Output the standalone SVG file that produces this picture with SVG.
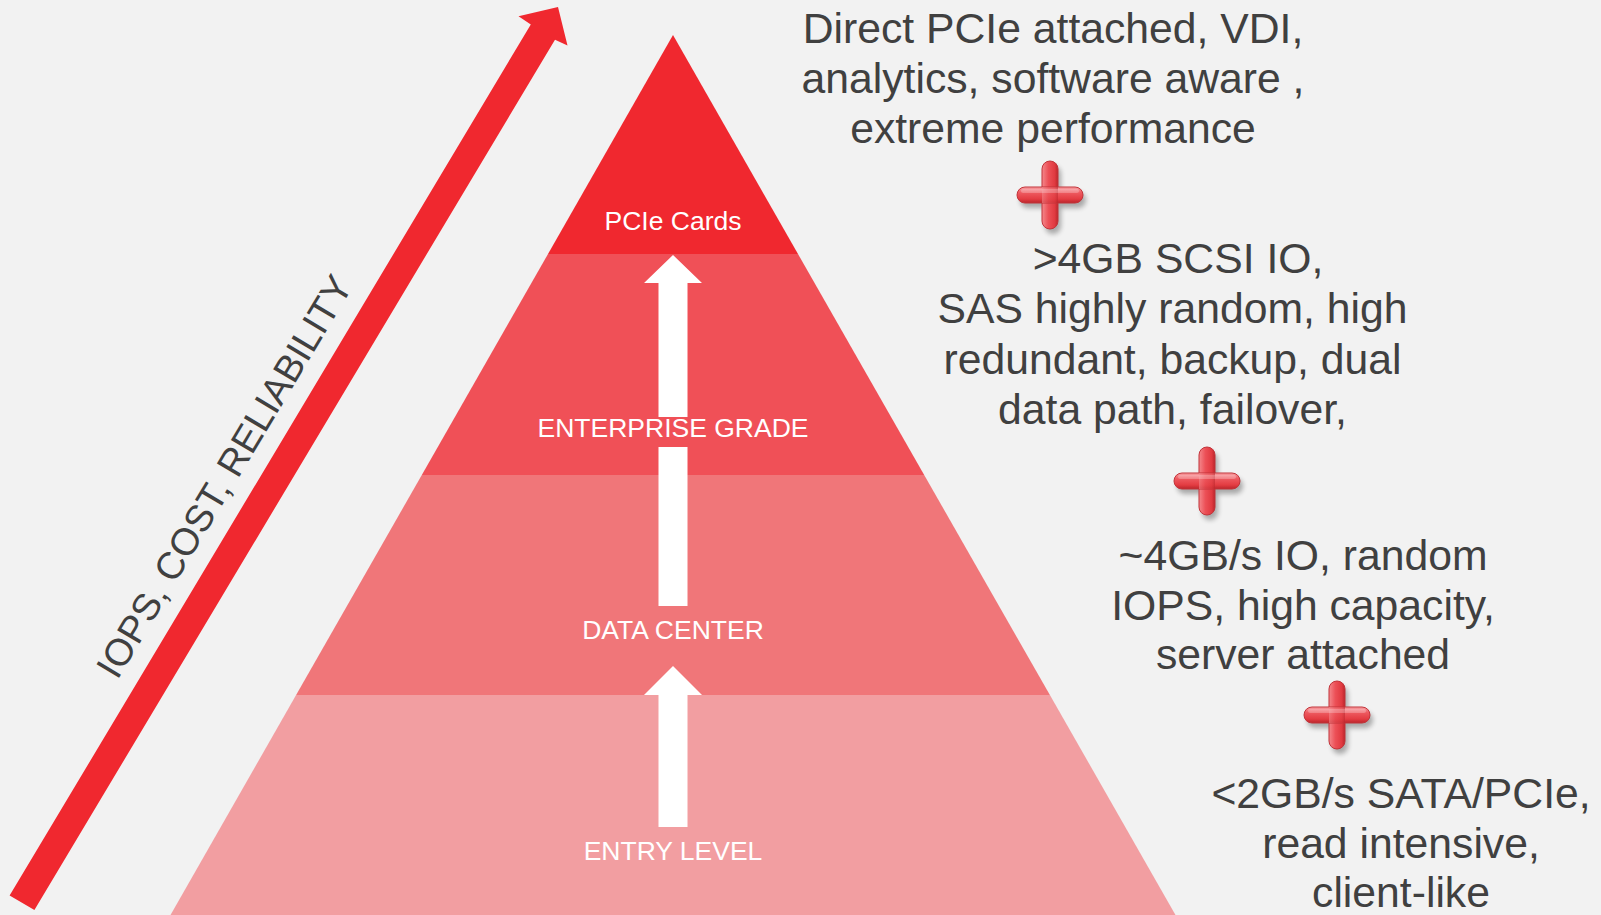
<svg xmlns="http://www.w3.org/2000/svg" width="1601" height="915" viewBox="0 0 1601 915">
  <style>
    .tier-label { font-family: "Liberation Sans", Arial, sans-serif; font-size: 26.5px; fill: #ffffff; text-anchor: middle; }
    .desc { font-family: "Liberation Sans", Arial, sans-serif; font-size: 42.7px; fill: #404040; text-anchor: middle; }
    .axis-label { font-family: "Liberation Sans", Arial, sans-serif; font-size: 38px; fill: #404040; text-anchor: middle; }
    .up-arrow { fill: #ffffff; }
  </style>
  <defs>
    <linearGradient id="barH" x1="0" y1="0" x2="0" y2="1">
      <stop offset="0" stop-color="#f9a3a6"/>
      <stop offset="0.35" stop-color="#ee5a60"/>
      <stop offset="0.75" stop-color="#e33c42"/>
      <stop offset="1" stop-color="#b9262c"/>
    </linearGradient>
    <linearGradient id="barV" x1="0" y1="0" x2="1" y2="0">
      <stop offset="0" stop-color="#f4888c"/>
      <stop offset="0.4" stop-color="#ec5057"/>
      <stop offset="0.8" stop-color="#e03a40"/>
      <stop offset="1" stop-color="#b9262c"/>
    </linearGradient>
    <filter id="soft" x="-30%" y="-30%" width="160%" height="160%">
      <feGaussianBlur stdDeviation="2.5"/>
    </filter>
    <!-- glossy plus sign, centred on the origin -->
    <g id="plus">
      <g transform="translate(3,5)" fill="#000000" opacity="0.3" filter="url(#soft)">
        <rect x="-33" y="-8" width="66" height="16" rx="8"/>
        <rect x="-8" y="-34" width="16" height="68" rx="8"/>
      </g>
      <rect x="-8" y="-34" width="16" height="68" rx="8" fill="url(#barV)" stroke="#c2343a" stroke-width="1"/>
      <rect x="-33" y="-8" width="66" height="16" rx="8" fill="url(#barH)" stroke="#c2343a" stroke-width="1"/>
      <rect x="-8" y="-8" width="16" height="16" fill="url(#barV)" opacity="0.6"/>
      <rect x="-29" y="-6" width="58" height="4" rx="2" fill="#ffffff" opacity="0.25"/>
    </g>
  </defs>

  <!-- background -->
  <rect x="0" y="0" width="1601" height="915" fill="#f2f2f2"/>

  <!-- pyramid tiers -->
  <g id="tier-pcie">
    <polygon points="673,35 798,254 548,254" fill="#f0282f"/>
    <text class="tier-label" x="673" y="230">PCIe Cards</text>
  </g>
  <g id="tier-enterprise">
    <polygon points="548,254 798,254 924.2,475 421.8,475" fill="#f05057"/>
    <text class="tier-label" x="673" y="437">ENTERPRISE GRADE</text>
  </g>
  <g id="tier-datacenter">
    <polygon points="421.8,475 924.2,475 1049.9,695 296.1,695" fill="#f07679"/>
    <text class="tier-label" x="673" y="639">DATA CENTER</text>
  </g>
  <g id="tier-entry">
    <polygon points="296.1,695 1049.9,695 1175.5,915 170.5,915" fill="#f29ea1"/>
    <text class="tier-label" x="673" y="860">ENTRY LEVEL</text>
  </g>

  <!-- connectors -->
  <g id="connectors">
    <!-- upward progression arrows inside the pyramid -->
    <polygon class="up-arrow" points="673,255 702,283 687.5,283 687.5,417 658.5,417 658.5,283 644,283"/>
    <rect class="up-arrow" x="658.5" y="447" width="29" height="159"/>
    <polygon class="up-arrow" points="673,666 702,695 687.5,695 687.5,827 658.5,827 658.5,695 644,695"/>
    <!-- diagonal axis arrow -->
    <polygon points="9.6,895.6 530.8,24.5 518.5,16.3 558,7 567.5,45.5 555,39.7 34.4,910" fill="#f0282f"/>
  </g>

  <g id="axis-label">
    <text class="axis-label" transform="translate(235.5,483.1) rotate(-59.11)">IOPS, COST, RELIABILITY</text>
  </g>

  <!-- descriptions -->
  <g id="desc-pcie">
    <text class="desc" x="1053" y="43">Direct PCIe attached, VDI,</text>
    <text class="desc" x="1053" y="93">analytics, software aware ,</text>
    <text class="desc" x="1053" y="143">extreme performance</text>
  </g>
  <g id="desc-enterprise">
    <text class="desc" x="1178" y="272.5">&gt;4GB SCSI IO,</text>
    <text class="desc" x="1172.5" y="323">SAS highly random, high</text>
    <text class="desc" x="1172.5" y="373.5">redundant, backup, dual</text>
    <text class="desc" x="1172.5" y="424">data path, failover,</text>
  </g>
  <g id="desc-datacenter">
    <text class="desc" x="1303" y="570">~4GB/s IO, random</text>
    <text class="desc" x="1303" y="620">IOPS, high capacity,</text>
    <text class="desc" x="1303" y="669">server attached</text>
  </g>
  <g id="desc-entry">
    <text class="desc" x="1401" y="808">&lt;2GB/s SATA/PCIe,</text>
    <text class="desc" x="1401" y="858">read intensive,</text>
    <text class="desc" x="1401" y="907">client-like</text>
  </g>

  <!-- plus signs between descriptions -->
  <g id="plus-1"><use href="#plus" transform="translate(1050,195)"/></g>
  <g id="plus-2"><use href="#plus" transform="translate(1207,481)"/></g>
  <g id="plus-3"><use href="#plus" transform="translate(1337,715)"/></g>
</svg>
